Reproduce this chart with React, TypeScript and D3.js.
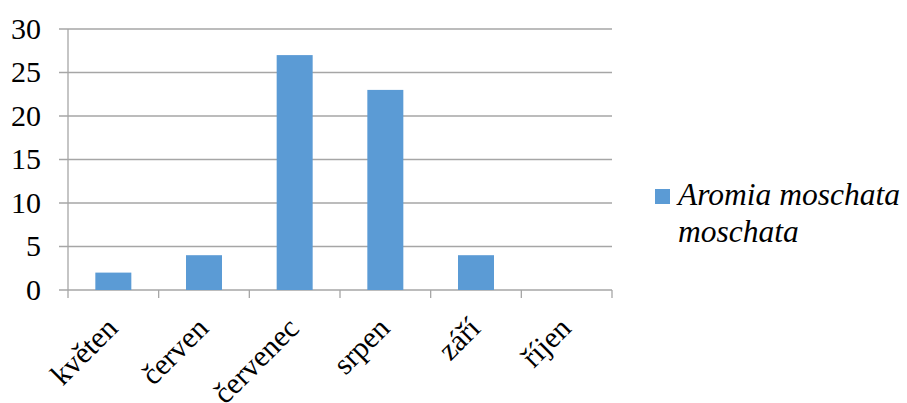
import React from "react";
import * as d3 from "d3";

const categories = ["květen", "červen", "červenec", "srpen", "září", "říjen"];
const values = [2, 4, 27, 23, 4, 0];
const yTicks = [0, 5, 10, 15, 20, 25, 30];
const seriesName = ["Aromia moschata", "moschata"];

export default function App() {
  const W = 907, H = 403;
  const left = 68, right = 612, top = 29, bottom = 290;
  const xb = d3.scaleBand<string>().domain(categories).range([left, right]);
  const y = d3.scaleLinear().domain([0, 30]).range([bottom, top]);
  const grid = "#a6a6a6";
  const font = "Liberation Serif";
  return (
    <svg width={W} height={H} style={{ position: "absolute", left: 0, top: 0, background: "#fff" }}>
      {yTicks.map((t) => (
        <g key={t}>
          <line x1={left - 9} x2={right} y1={y(t)} y2={y(t)} stroke={grid} strokeWidth={1.3} />
          <text x={41} y={y(t)} dy="0.33em" textAnchor="end" fontFamily={font} fontSize={30} fill="#000">{t}</text>
        </g>
      ))}
      <line x1={left} x2={left} y1={top} y2={bottom + 8} stroke={grid} strokeWidth={1.3} />
      {categories.map((c) => (
        <line key={c} x1={(xb(c) as number) + xb.bandwidth()} x2={(xb(c) as number) + xb.bandwidth()} y1={bottom} y2={bottom + 8} stroke={grid} strokeWidth={1.3} />
      ))}
      {categories.map((c, i) => (
        <rect key={c} x={xb(c)! + xb.bandwidth() / 2 - 18} width={36} y={y(values[i])} height={bottom - y(values[i])} fill="#5B9BD5" />
      ))}
      {categories.map((c) => {
        const cx = xb(c)! + xb.bandwidth() / 2;
        return (
          <text key={c} transform={`translate(${cx + 6},${bottom + 40}) rotate(-45)`} textAnchor="end" fontFamily={font} fontSize={30} fill="#000">{c}</text>
        );
      })}
      <rect x={655} y={189} width={15} height={15} fill="#5B9BD5" />
      <text x={678} y={205} fontFamily={font} fontStyle="italic" fontSize={31.5} fill="#000">{seriesName[0]}</text>
      <text x={678} y={242} fontFamily={font} fontStyle="italic" fontSize={31.5} fill="#000">{seriesName[1]}</text>
    </svg>
  );
}
